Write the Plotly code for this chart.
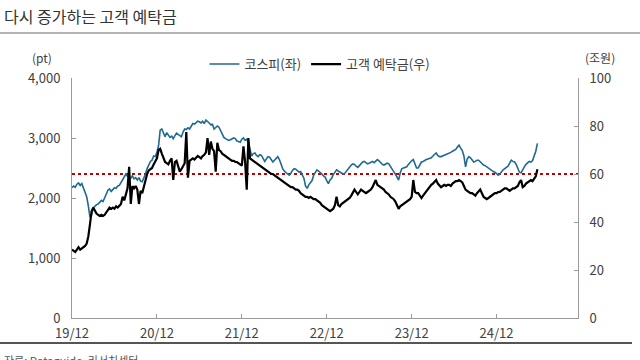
import pandas as pd
import plotly.graph_objects as go

# Weekly observation dates (Fridays), from late Dec 2019 to mid Jun 2025
dates = pd.date_range("2019-12-27", periods=286, freq="7D")

# KOSPI (pt, left axis)
kospi = [
    2170, 2200, 2180, 2230, 2250, 2210, 2240, 2160, 2100, 2020,
    1870, 1680, 1720, 1840, 1860, 1890, 1900, 1930, 1960, 1940,
    2000, 2060, 2130, 2150, 2110, 2140, 2170, 2160, 2200, 2210,
    2260, 2300, 2340, 2400, 2360, 2350, 2330, 2370, 2320, 2340,
    2300, 2340, 2280, 2270, 2330, 2400, 2490, 2550, 2610, 2630,
    2700, 2690, 2760, 2870, 3130, 3150, 3080, 3020, 3090, 3050,
    3010, 3030, 2990, 3040, 3080, 3060, 3040, 3020, 3100, 3150,
    3140, 3170, 3150, 3210, 3240, 3230, 3260, 3280, 3270, 3250,
    3280, 3240, 3300, 3280, 3250, 3220, 3230, 3150, 3170, 3200,
    3180, 3120, 3060, 3010, 2990, 2980, 2960, 2970, 2990, 3000,
    2990, 2950, 2940, 2930, 2980, 3000, 2960, 2980, 2920, 2780,
    2700, 2740, 2750, 2710, 2690, 2720, 2710, 2660, 2610, 2650,
    2690, 2680, 2640, 2600, 2630, 2660, 2690, 2640, 2560, 2490,
    2450, 2420, 2400, 2380, 2410, 2460, 2490, 2480, 2450, 2430,
    2440, 2390, 2330, 2200, 2160, 2220, 2250, 2290, 2380, 2440,
    2470, 2450, 2430, 2400, 2370, 2350, 2290, 2240, 2300, 2330,
    2390, 2440, 2470, 2450, 2430, 2420, 2400, 2410, 2450, 2490,
    2520, 2550, 2570, 2560, 2530, 2510, 2540, 2580, 2600, 2610,
    2590, 2570, 2580, 2600, 2610, 2590, 2620, 2640, 2620, 2580,
    2560, 2550, 2570, 2580, 2570, 2520, 2470, 2440, 2400, 2350,
    2300, 2420, 2490, 2500, 2510, 2520, 2560, 2600, 2620, 2640,
    2560, 2500, 2500, 2560, 2600, 2610, 2630, 2640, 2650, 2660,
    2670, 2700, 2720, 2750, 2710, 2690, 2690, 2700, 2720, 2720,
    2730, 2740, 2760, 2780, 2800, 2810, 2850, 2880, 2830, 2790,
    2700, 2520, 2650, 2690, 2670, 2640, 2600, 2610, 2630, 2630,
    2600, 2580, 2550, 2540, 2520, 2490, 2470, 2460, 2440, 2430,
    2410, 2380, 2400, 2440, 2470, 2490, 2510, 2530, 2580, 2630,
    2610, 2600, 2560, 2500, 2430, 2420, 2480, 2520, 2560, 2590,
    2610, 2600, 2620, 2700, 2780, 2910,
]

# Customer deposits (trillion KRW, right axis)
deposits = [
    28.5, 28.0, 27.5, 28.5, 29.5, 28.5, 29.0, 29.5, 30.0, 31.0,
    34.0, 39.0, 44.5, 46.0, 44.5, 43.5, 43.0, 42.5, 43.0, 42.5,
    43.0, 44.0, 45.0, 46.0, 45.5, 46.0, 45.5, 46.5, 46.0, 47.0,
    47.5, 50.5, 49.0, 51.5, 54.0, 63.0, 47.5, 55.0, 54.0, 55.0,
    53.5, 47.5, 53.0, 52.0, 55.0, 57.5, 60.0, 61.5, 62.0, 62.5,
    64.0, 65.5, 66.5, 70.0, 70.5, 68.5, 67.0, 65.0, 64.5, 64.0,
    65.5, 66.5, 57.5, 65.0, 65.5, 63.5, 61.0, 62.0, 63.0, 64.5,
    77.5, 58.5, 65.5, 66.0, 66.5, 66.0, 67.0, 67.5, 67.0, 66.5,
    67.5, 68.0, 69.0, 75.0, 68.0, 73.5, 70.5, 69.5, 61.0, 73.0,
    70.0, 69.5, 68.5, 68.0, 67.5, 67.0, 66.5, 66.0, 65.5, 65.5,
    65.0, 65.0, 64.5, 64.0, 63.5, 71.5, 65.0, 53.5, 75.0, 66.5,
    66.0, 65.5, 65.0, 64.5, 64.0, 63.5, 63.0, 62.5, 62.0, 61.5,
    61.0, 60.5, 60.0, 60.0, 59.5, 59.0, 58.5, 58.0, 57.5, 57.0,
    56.5, 56.0, 55.5, 55.0, 54.5, 54.5, 54.0, 53.5, 53.5, 53.0,
    52.0, 51.5, 51.0, 50.5, 50.5, 50.0, 50.5, 50.0, 49.5, 49.5,
    49.0, 48.5, 48.0, 47.0, 46.5, 46.0, 45.5, 45.0, 44.5, 45.0,
    45.5, 47.0, 50.5, 47.0, 46.5, 47.5, 48.0, 48.5, 49.0, 49.5,
    50.0, 51.0, 52.0, 53.5, 52.5, 51.5, 52.5, 53.5, 53.0, 52.5,
    52.0, 52.5, 53.0, 53.5, 54.5, 56.0, 57.5, 55.5, 55.0, 54.5,
    54.0, 53.5, 52.5, 52.0, 51.5, 50.5, 50.0, 49.5, 48.5, 47.0,
    45.5, 46.5, 47.0, 47.5, 48.0, 48.5, 49.0, 49.5, 50.5, 57.5,
    52.5, 52.0, 52.0, 51.0, 50.0, 51.0, 52.0, 53.0, 54.0, 55.0,
    55.5, 56.0, 57.0, 57.5, 56.0, 55.0, 54.5, 55.0, 55.5, 55.0,
    55.5, 55.5, 55.0, 56.0, 56.5, 57.0, 57.0, 57.5, 57.0, 56.5,
    55.0, 53.5, 53.0, 52.5, 52.0, 52.0, 51.5, 51.0, 52.0, 53.0,
    53.5, 52.0, 50.5, 50.0, 49.5, 50.0, 50.5, 51.0, 51.5, 52.0,
    52.0, 52.5, 52.5, 53.0, 53.5, 54.0, 54.0, 53.5, 53.0, 53.5,
    54.0, 54.0, 54.5, 55.0, 56.5, 57.5, 54.5, 55.0, 56.0, 56.5,
    57.0, 57.5, 57.0, 58.0, 59.0, 62.0,
]

reference_level = 2400  # dotted reference line (left axis)

tick_dates = ["2019-12-27", "2020-12-25", "2021-12-24", "2022-12-23", "2023-12-22", "2024-12-20"]
tick_labels = ["19/12", "20/12", "21/12", "22/12", "23/12", "24/12"]

title_text = "다시 증가하는 고객 예탁금"
source_text = "자료: Dataguide, 리서치센터"

FONT = "Noto Sans CJK KR"
AX = "#9a9a9a"
TXT = "#404040"

fig = go.Figure()
fig.add_trace(go.Scatter(x=dates, y=kospi, name="코스피(좌)", mode="lines",
                         line=dict(color="#1f6a91", width=1.6), yaxis="y"))
fig.add_trace(go.Scatter(x=dates, y=deposits, name="고객 예탁금(우)", mode="lines",
                         line=dict(color="#000000", width=2.2), yaxis="y2"))

fig.add_shape(type="line", xref="paper", x0=0, x1=1, yref="y", y0=reference_level, y1=reference_level,
              line=dict(color="#c00000", width=2, dash="dot"), layer="below")

# title underline and footer separator
fig.add_shape(type="line", xref="paper", yref="paper", x0=-72/506, x1=568/506,
              y0=(318-33)/240, y1=(318-33)/240, line=dict(color="#9a9a9a", width=1.5))
fig.add_shape(type="line", xref="paper", yref="paper", x0=-72/506, x1=560/506,
              y0=(318-343)/240, y1=(318-343)/240, line=dict(color="#555555", width=2))

fig.update_layout(
    width=640, height=360,
    margin=dict(l=72, r=62, t=78, b=42),
    paper_bgcolor="white", plot_bgcolor="white",
    font=dict(family=FONT, size=13, color=TXT),
    showlegend=True,
    legend=dict(orientation="h", x=0.49, y=1.058, xanchor="center", yanchor="middle",
                font=dict(size=13, color=TXT), itemwidth=30, bgcolor="rgba(0,0,0,0)"),
    xaxis=dict(type="date", range=["2019-12-27", "2025-12-04"], tickvals=tick_dates, ticktext=tick_labels,
               showline=True, linecolor=AX, linewidth=1, ticks="inside", ticklen=4, tickcolor=AX,
               showgrid=False, zeroline=False, tickfont=dict(size=13, color=TXT), ticklabelstandoff=3),
    yaxis=dict(range=[0, 4000], dtick=1000, tickformat=",", showline=True, linecolor=AX, linewidth=1,
               ticks="inside", ticklen=4, tickcolor=AX, showgrid=False, zeroline=False,
               tickfont=dict(size=13, color=TXT), ticklabelstandoff=8),
    yaxis2=dict(range=[0, 100], dtick=20, overlaying="y", side="right", showline=True, linecolor=AX,
                linewidth=1, ticks="inside", ticklen=4, tickcolor=AX, showgrid=False, zeroline=False,
                tickfont=dict(size=13, color=TXT), ticklabelstandoff=8),
)

fig.add_annotation(text=title_text, xref="paper", yref="paper", x=-70/506, y=(318-16)/240,
                   xanchor="left", yanchor="middle", showarrow=False,
                   font=dict(size=16, color="#333333", family=FONT))
fig.add_annotation(text="(pt)", xref="paper", yref="paper", x=(42-72)/506, y=(318-57)/240,
                   xanchor="center", yanchor="middle", showarrow=False, font=dict(size=12, color=TXT))
fig.add_annotation(text="(조원)", xref="paper", yref="paper", x=(600-72)/506, y=(318-57)/240,
                   xanchor="center", yanchor="middle", showarrow=False, font=dict(size=12, color=TXT))
fig.add_annotation(text=source_text, xref="paper", yref="paper", x=-70/506, y=(318-350)/240,
                   xanchor="left", yanchor="top", showarrow=False, font=dict(size=11, color="#555555"))

fig.write_html("out.html", config={"displayModeBar": False},
               post_script="document.body.style.margin='0px';")
